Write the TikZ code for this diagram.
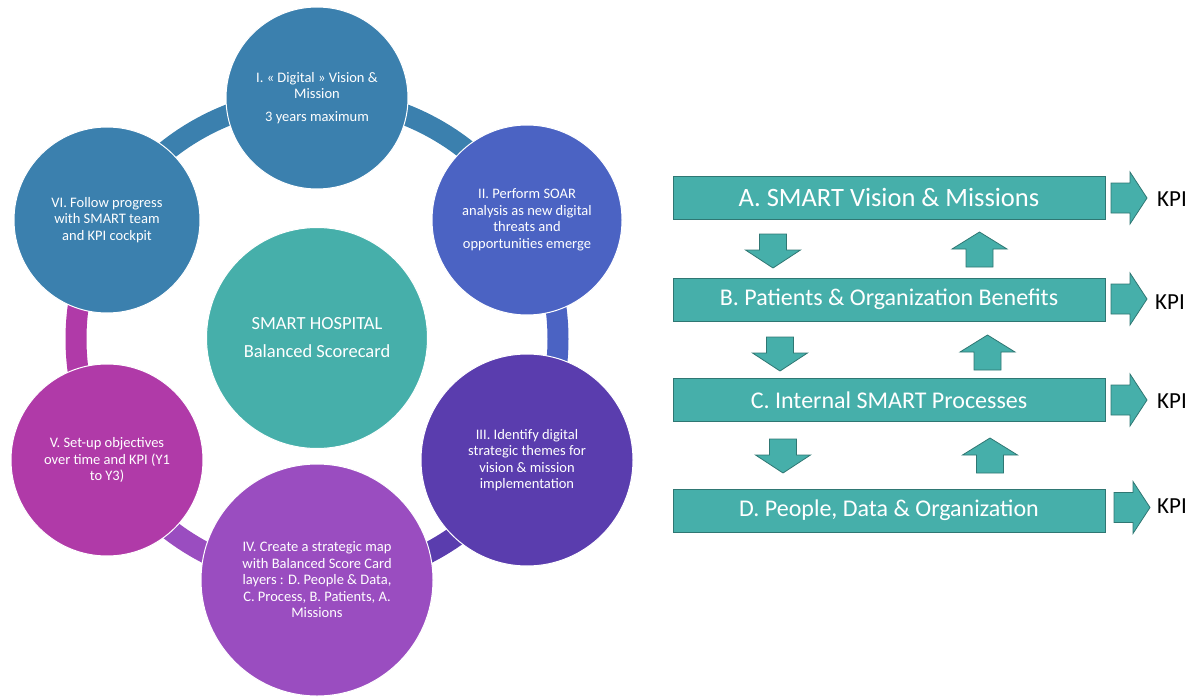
\documentclass[tikz,border=0pt]{standalone}
\usepackage{fontspec}
\setmainfont{Carlito}
\definecolor{cI}{HTML}{3B80AE}
\definecolor{cII}{HTML}{4B63C3}
\definecolor{cIII}{HTML}{5A3DAE}
\definecolor{cIV}{HTML}{9A4DC0}
\definecolor{cV}{HTML}{B03AA8}
\definecolor{cVI}{HTML}{3B80AE}
\definecolor{teal1}{HTML}{46AFAA}
\definecolor{tealedge}{HTML}{2F7773}
\tikzset{
  bub/.style={circle, draw=white, line width=1pt, inner sep=0pt, text=white, align=center, font=\fontsize{14.5}{16.5}\selectfont},
  ring/.style={line width=21pt},
  layer/.style={draw=tealedge, line width=0.8pt, fill=teal1, text=white, minimum width=432pt, minimum height=43pt, inner sep=0pt, font=\fontsize{24}{26}\selectfont},
  barrowp/.style={draw=tealedge, line width=0.8pt, fill=teal1, line join=miter},
  kpi/.style={font=\fontsize{23}{26}\selectfont, text=black, anchor=west, inner sep=0pt},
  downarr/.pic={\path[barrowp] (-13.5,0) -- (13.5,0) -- (13.5,16) -- (27.5,16) -- (0,34) -- (-27.5,16) -- (-13.5,16) -- cycle;},
  uparr/.pic={\path[barrowp] (-13.5,35) -- (13.5,35) -- (13.5,17) -- (27.5,17) -- (0,0) -- (-27.5,17) -- (-13.5,17) -- cycle;},
  rightarr/.pic={\path[barrowp] (0,-15) -- (19,-15) -- (19,-26) -- (36,0) -- (19,26) -- (19,15) -- (0,15) -- cycle;}
}
\begin{document}
\begin{tikzpicture}[x=1pt,y=-1pt]
\useasboundingbox (0,0) rectangle (1204,698);
\coordinate (ctr) at (317,339);
% ring
\draw[ring, cI]   (ctr) ++(-90:241) arc[start angle=-90, end angle=-30, radius=241];
\draw[ring, cII]  (ctr) ++(-30:241) arc[start angle=-30, end angle=30, radius=241];
\draw[ring, cIII] (ctr) ++(30:241) arc[start angle=30, end angle=90, radius=241];
\draw[ring, cIV]  (ctr) ++(90:241) arc[start angle=90, end angle=150, radius=241];
\draw[ring, cV]   (ctr) ++(150:241) arc[start angle=150, end angle=210, radius=241];
\draw[ring, cVI]  (ctr) ++(210:241) arc[start angle=210, end angle=270, radius=241];
% circles
\node[bub, fill=cI, minimum size=182pt] (s1) at (317,98) {I. « Digital » Vision \&\\ Mission\\[6pt] 3 years maximum};
\node[bub, fill=cII, minimum size=190pt] (s2) at (527,220) {II. Perform SOAR\\ analysis as new digital\\ threats and\\ opportunities emerge};
\node[bub, fill=cIII, minimum size=212pt] (s3) at (527,460) {III. Identify digital\\ strategic themes for\\ vision \& mission\\ implementation};
\node[bub, fill=cIV, minimum size=232pt] (s4) at (317,580) {IV. Create a strategic map\\ with Balanced Score Card\\ layers : D. People \& Data,\\ C. Process, B. Patients, A.\\ Missions};
\node[bub, fill=cV, minimum size=192pt] (s5) at (107,460) {V. Set-up objectives\\ over time and KPI (Y1\\ to Y3)};
\node[bub, fill=cVI, minimum size=186pt] (s6) at (107,220) {VI. Follow progress\\ with SMART team\\ and KPI cockpit};
\node[bub, fill=teal1, minimum size=221pt, font=\fontsize{18.5}{28}\selectfont] (hub) at (317,338) {SMART HOSPITAL\\ Balanced Scorecard};
% layers
\node[layer, font=\fontsize{26.5}{28}\selectfont] (A) at (889,197.5) {A. SMART Vision \& Missions};
\node[layer] (B) at (889,299.5) {B. Patients \& Organization Benefits};
\node[layer] (C) at (889,400) {C. Internal SMART Processes};
\node[layer] (D) at (889,510.5) {D. People, Data \& Organization};
% KPI arrows
\pic (ka) at (1111,198) {rightarr};
\pic (kb) at (1111,299) {rightarr};
\pic (kc) at (1111,400) {rightarr};
\pic (kd) at (1114,507.5) {rightarr};
\node[kpi] (ta) at (1157,199) {KPI};
\node[kpi] (tb) at (1155,302) {KPI};
\node[kpi] (tc) at (1157,401) {KPI};
\node[kpi] (td) at (1157,506) {KPI};
% down arrows
\pic (d1) at (773,234) {downarr};
\pic (d2) at (780,337) {downarr};
\pic (d3) at (783,439) {downarr};
% up arrows
\pic (u1) at (979.5,232) {uparr};
\pic (u2) at (987.5,335) {uparr};
\pic (u3) at (990,438) {uparr};
\end{tikzpicture}
\end{document}
